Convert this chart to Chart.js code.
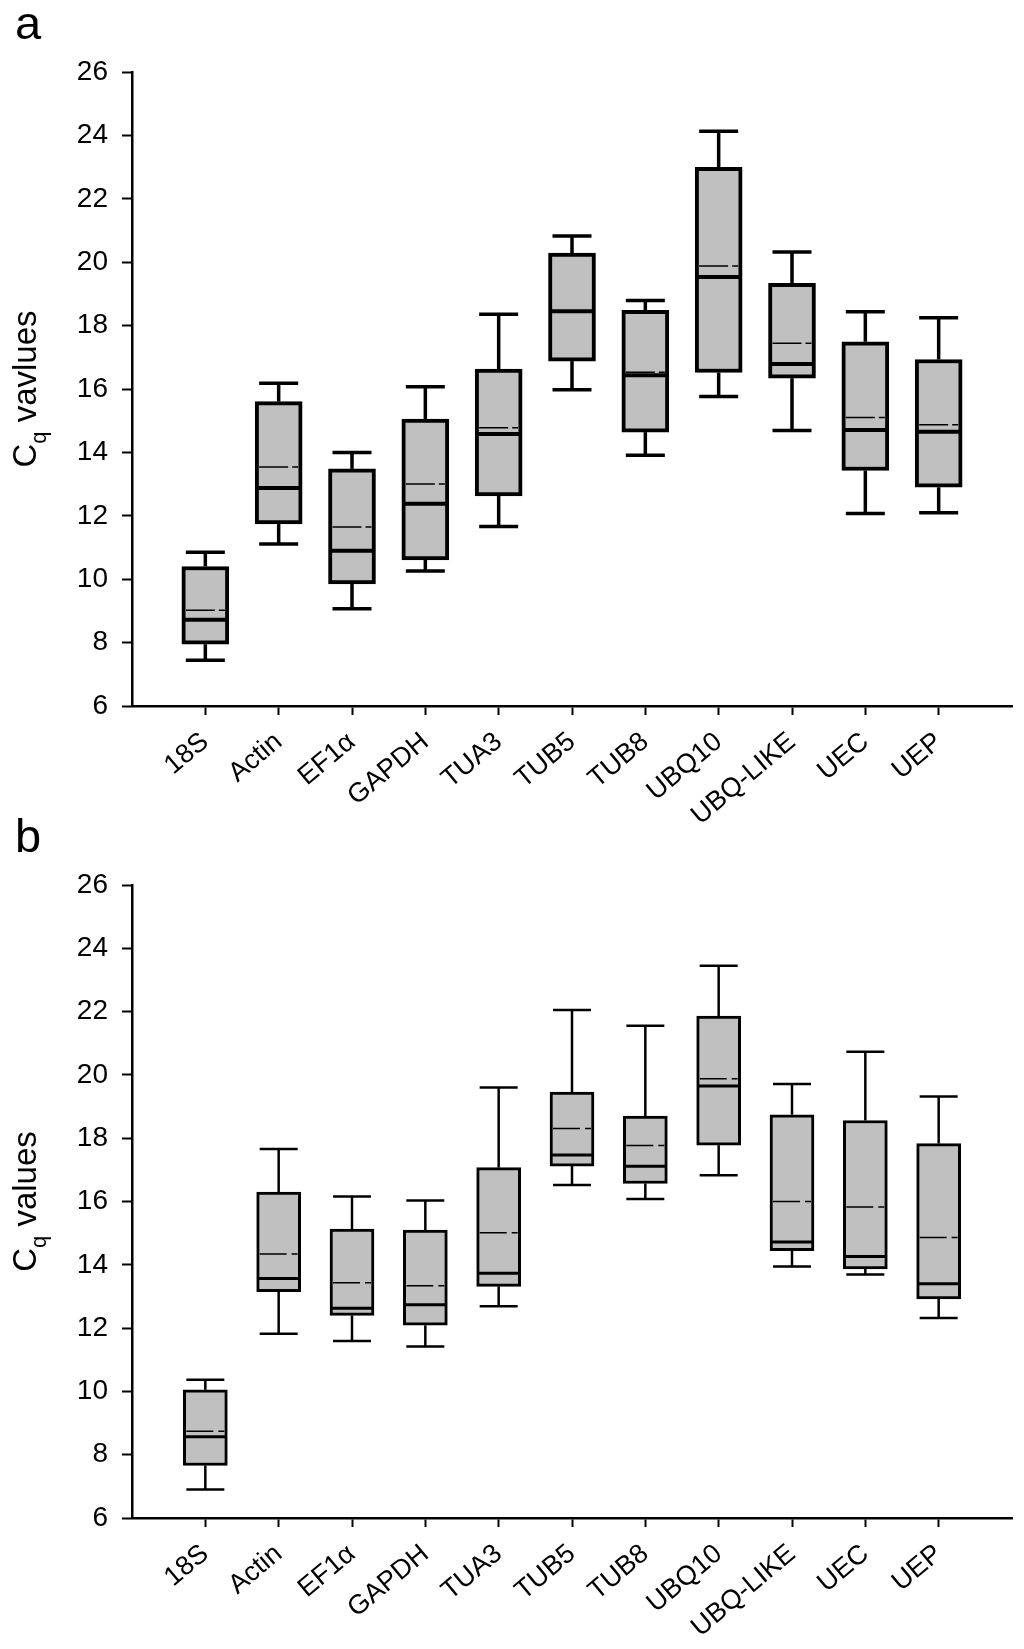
<!DOCTYPE html>
<html>
<head>
<meta charset="utf-8">
<title>Cq values box plots</title>
<script src="https://cdn.jsdelivr.net/npm/chart.js@4.4.1/dist/chart.umd.min.js"></script>
<style>
  body { margin: 0; background: #fff; }
  #page { position: relative; width: 1024px; height: 1649px; overflow: hidden; background: #fff; }
  canvas { position: absolute; left: 0; }
  #chartA { top: 0; }
  #chartB { top: 780px; }
</style>
</head>
<body>
<div id="page">
  <canvas id="chartA" width="1024" height="860"></canvas>
  <canvas id="chartB" width="1024" height="869"></canvas>
</div>
<script>
// genes on the x axis (same for both panels)
const genes = ['18S', 'Actin', 'EF1α', 'GAPDH', 'TUA3', 'TUB5', 'TUB8', 'UBQ10', 'UBQ-LIKE', 'UEC', 'UEP'];
const yTicks = [6, 8, 10, 12, 14, 16, 18, 20, 22, 24, 26];

// panel a - whisker ends, quartiles, median, mean
const aLow    = [7.44, 11.11, 9.07, 10.26, 11.66, 15.98, 13.91, 15.76, 14.69, 12.07, 12.10];
const aQ1     = [7.95, 11.74, 9.85, 10.61, 12.63, 16.88, 14.64, 16.52, 16.34, 13.43, 12.90];
const aMedian = [8.72, 12.88, 10.90, 12.38, 14.58, 18.45, 16.43, 19.53, 16.79, 14.71, 14.65];
const aMean   = [9.02, 13.54, 11.65, 13.00, 14.78, 18.47, 16.53, 19.88, 17.44, 15.10, 14.87];
const aQ3     = [10.40, 15.60, 13.48, 15.05, 16.63, 20.29, 18.48, 22.99, 19.33, 17.49, 16.93];
const aHigh   = [10.85, 16.18, 14.00, 16.07, 18.36, 20.83, 18.79, 24.13, 20.32, 18.44, 18.25];

// panel b
const bLow    = [6.90, 11.82, 11.59, 11.42, 12.69, 16.52, 16.08, 16.83, 13.95, 13.69, 12.32];
const bQ1     = [7.66, 13.15, 12.40, 12.09, 13.32, 17.12, 16.57, 17.78, 14.45, 13.87, 12.92];
const bMedian = [8.57, 13.57, 12.63, 12.74, 13.73, 17.47, 17.11, 19.65, 14.72, 14.26, 13.40];
const bMean   = [8.74, 14.34, 13.43, 13.34, 15.01, 18.31, 17.77, 19.88, 16.00, 15.83, 14.86];
const bQ3     = [10.05, 16.30, 15.13, 15.10, 17.07, 19.46, 18.70, 21.86, 18.74, 18.56, 17.83];
const bHigh   = [10.37, 17.66, 16.16, 16.03, 19.60, 22.05, 21.55, 23.45, 19.71, 20.73, 19.32];

const FONT = "'Liberation Sans', Arial, sans-serif";

// whiskers, median, mean, axis title and panel letter
function boxPlugin(stats, look) {
  return {
    id: 'boxWhisker',
    afterDatasetsDraw(chart) {
      const { ctx, scales: { x, y } } = chart;
      const line = (x1, y1, x2, y2) => {
        ctx.beginPath(); ctx.moveTo(x1, y1); ctx.lineTo(x2, y2); ctx.stroke();
      };
      ctx.save();
      ctx.strokeStyle = '#000';
      ctx.lineCap = 'butt';
      genes.forEach((g, i) => {
        const cx = x.getPixelForValue(i);
        const half = look.boxW / 2;
        const cap = look.capW / 2;
        const pQ3 = y.getPixelForValue(stats.q3[i]);
        const pQ1 = y.getPixelForValue(stats.q1[i]);
        const pHi = y.getPixelForValue(stats.hi[i]);
        const pLo = y.getPixelForValue(stats.lo[i]);

        ctx.setLineDash([]);
        ctx.lineWidth = look.whisker;
        line(cx, pQ3, cx, pHi);
        line(cx, pQ1, cx, pLo);
        ctx.lineWidth = look.cap;
        line(cx - cap, pHi, cx + cap, pHi);
        line(cx - cap, pLo, cx + cap, pLo);

        // mean (dashed, thin)
        ctx.lineWidth = look.mean;
        ctx.setLineDash(look.dash);
        const pMean = y.getPixelForValue(stats.mean[i]);
        line(cx - half + look.border, pMean, cx + half - look.border, pMean);

        // median
        ctx.setLineDash([]);
        ctx.lineWidth = look.median;
        const pMed = y.getPixelForValue(stats.med[i]);
        line(cx - half + look.border / 2, pMed, cx + half - look.border / 2, pMed);
      });
      ctx.restore();
    },
    afterDraw(chart) {
      const { ctx, chartArea } = chart;
      ctx.save();
      ctx.fillStyle = '#000';
      // panel letter
      ctx.font = '47px ' + FONT;
      ctx.textBaseline = 'alphabetic';
      ctx.textAlign = 'left';
      ctx.fillText(look.tag, 15, look.tagY);

      // rotated axis title: C with subscript q, then the rest
      const big = '33px ' + FONT, small = '22px ' + FONT;
      ctx.font = big;
      const wC = ctx.measureText('C').width;
      const wRest = ctx.measureText(' ' + look.title).width;
      ctx.font = small;
      const wQ = ctx.measureText('q').width;
      const total = wC + wQ + wRest;
      const cy = (chartArea.top + chartArea.bottom) / 2;
      ctx.translate(36, cy);
      ctx.rotate(-Math.PI / 2);
      let px = -total / 2;
      ctx.font = big;
      ctx.fillText('C', px, 0);
      px += wC;
      ctx.font = small;
      ctx.fillText('q', px, 10);
      px += wQ;
      ctx.font = big;
      ctx.fillText(' ' + look.title, px, 0);
      ctx.restore();
    }
  };
}

function buildPanel(canvasId, stats, look) {
  const canvas = document.getElementById(canvasId);
  return new Chart(canvas.getContext('2d'), {
    type: 'bar',
    data: {
      datasets: [{
        data: genes.map((g, i) => ({ x: i, y: [stats.q1[i], stats.q3[i]] })),
        backgroundColor: '#c0c0c0',
        borderColor: '#000',
        borderWidth: look.border,
        borderSkipped: false,
        barThickness: look.boxW
      }]
    },
    options: {
      responsive: false,
      animation: false,
      layout: { padding: { top: look.top, right: 12, bottom: 0, left: 0 } },
      plugins: { legend: { display: false }, tooltip: { enabled: false } },
      scales: {
        x: {
          type: 'linear',
          min: -1,
          max: 11,
          offset: false,
          afterBuildTicks: ax => { ax.ticks = genes.map((g, i) => ({ value: i })); },
          afterFit: ax => { ax.height = look.xAxisH; },
          ticks: {
            autoSkip: false,
            minRotation: 40,
            maxRotation: 40,
            padding: 11,
            color: '#000',
            font: { family: FONT, size: 27 },
            callback: v => genes[v]
          },
          grid: { offset: false, drawOnChartArea: false, tickLength: 9, tickWidth: 2, tickColor: '#000' },
          border: { color: '#000', width: 2.5 }
        },
        y: {
          min: 6,
          max: 26,
          afterBuildTicks: ax => { ax.ticks = yTicks.map(v => ({ value: v })); },
          afterFit: ax => { ax.width = 132; },
          ticks: {
            padding: 14,
            color: '#000',
            font: { family: FONT, size: 28 },
            callback: v => String(v)
          },
          grid: { drawOnChartArea: false, tickLength: 10, tickWidth: 2, tickColor: '#000' },
          border: { color: '#000', width: 2.5 }
        }
      }
    },
    plugins: [boxPlugin(stats, look)]
  });
}

buildPanel('chartA',
  { lo: aLow, q1: aQ1, med: aMedian, mean: aMean, q3: aQ3, hi: aHigh },
  { tag: 'a', tagY: 39, title: 'vavlues', top: 72, xAxisH: 154,
    boxW: 47, capW: 39, border: 4, whisker: 3.5, cap: 3.5, median: 4, mean: 1.5, dash: [29, 4] });

// canvas b starts at page y 780
buildPanel('chartB',
  { lo: bLow, q1: bQ1, med: bMedian, mean: bMean, q3: bQ3, hi: bHigh },
  { tag: 'b', tagY: 72, title: 'values', top: 105, xAxisH: 131,
    boxW: 44, capW: 38, border: 3, whisker: 2.5, cap: 2.5, median: 3, mean: 1.5, dash: [27, 5] });
</script>
</body>
</html>
